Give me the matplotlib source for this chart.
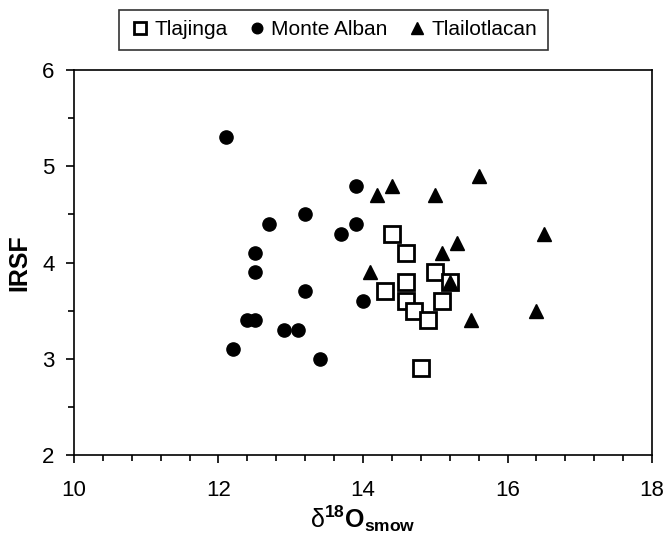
import matplotlib
matplotlib.use("Agg")
import matplotlib.pyplot as plt
from matplotlib.ticker import MultipleLocator

plt.rcParams['font.family'] = ['Liberation Sans', 'DejaVu Sans']
plt.rcParams['mathtext.fontset'] = 'custom'
plt.rcParams['mathtext.rm'] = 'Liberation Sans'
plt.rcParams['mathtext.it'] = 'Liberation Sans:italic'
plt.rcParams['mathtext.bf'] = 'Liberation Sans:bold'

# Tlajinga (open squares)
tla_x = [14.4, 14.6, 15.0, 14.6, 15.2, 14.3, 14.6, 15.1, 14.7, 14.9, 14.8]
tla_y = [4.3, 4.1, 3.9, 3.8, 3.8, 3.7, 3.6, 3.6, 3.5, 3.4, 2.9]

# Monte Alban (filled circles)
ma_x = [12.1, 13.9, 13.2, 12.7, 13.9, 13.7, 12.5, 12.5, 13.2, 14.0, 12.4, 12.5, 12.9, 13.1, 12.2, 13.4]
ma_y = [5.3, 4.8, 4.5, 4.4, 4.4, 4.3, 4.1, 3.9, 3.7, 3.6, 3.4, 3.4, 3.3, 3.3, 3.1, 3.0]

# Tlailotlacan (filled triangles)
tl_x = [14.4, 14.2, 15.0, 15.6, 15.3, 15.1, 16.5, 14.1, 15.2, 15.5, 16.4]
tl_y = [4.8, 4.7, 4.7, 4.9, 4.2, 4.1, 4.3, 3.9, 3.8, 3.4, 3.5]

fig = plt.figure(figsize=(6.64, 5.39), dpi=100)
ax = fig.add_axes([0.1114, 0.1558, 0.8706, 0.7142])

ax.plot(tla_x, tla_y, 's', ms=11, mfc='white', mec='black', mew=2, label='Tlajinga', zorder=3)
ax.plot(ma_x, ma_y, 'o', ms=9.5, color='black', label='Monte Alban', zorder=3)
ax.plot(tl_x, tl_y, '^', ms=10.5, color='black', label='Tlailotlacan', zorder=4)

ax.set_xlim(10, 18)
ax.set_ylim(2, 6)
ax.xaxis.set_major_locator(MultipleLocator(2))
ax.xaxis.set_minor_locator(MultipleLocator(0.4))
ax.yaxis.set_major_locator(MultipleLocator(1))
ax.yaxis.set_minor_locator(MultipleLocator(0.5))
ax.tick_params(which='major', direction='out', length=6, width=1.2, labelsize=16, pad=8)
ax.tick_params(axis='x', which='major', pad=12)
ax.tick_params(which='minor', direction='out', length=4, width=1.2)
for s in ax.spines.values():
    s.set_linewidth(1.2)

ax.set_ylabel('IRSF', fontsize=18, fontweight='bold', labelpad=8)
ax.set_xlabel('δ$^{\\mathbf{18}}\\mathbf{O}_{\\mathbf{smow}}$', fontsize=18, labelpad=2)

leg = fig.legend(loc='center', bbox_to_anchor=(0.502, 0.945), ncol=3, fontsize=15,
                 frameon=True, fancybox=False, edgecolor='black', handletextpad=0.2,
                 columnspacing=0.9, borderpad=0.5, handlelength=1.0, markerscale=0.8)
leg.get_frame().set_linewidth(1.2)

fig.savefig('out.png', dpi=100)
